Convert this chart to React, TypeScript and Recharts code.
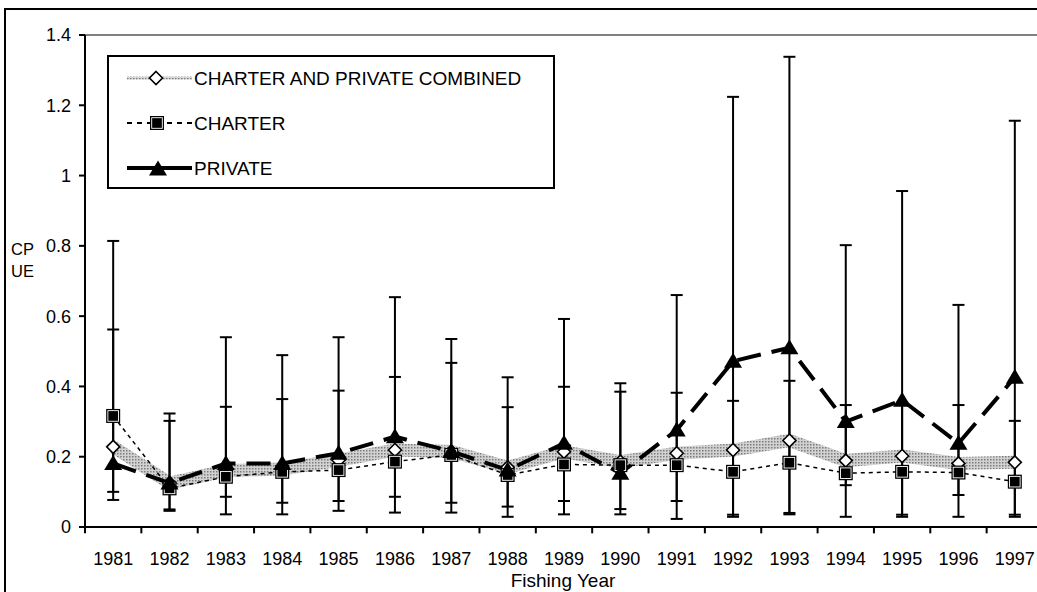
import React from 'react';
import { LineChart, Line, XAxis, YAxis, ErrorBar, ReferenceLine, Legend } from 'recharts';

const FONT = '"Liberation Sans", Arial, Helvetica, sans-serif';

// Categories
const years = [1981, 1982, 1983, 1984, 1985, 1986, 1987, 1988, 1989, 1990, 1991, 1992, 1993, 1994, 1995, 1996, 1997];

// Series values (CPUE)
const combined = [0.228, 0.125, 0.160, 0.165, 0.190, 0.219, 0.215, 0.170, 0.214, 0.186, 0.210, 0.219, 0.246, 0.189, 0.202, 0.181, 0.184];
const charter = [0.316, 0.110, 0.143, 0.157, 0.162, 0.186, 0.205, 0.148, 0.178, 0.176, 0.176, 0.157, 0.183, 0.153, 0.157, 0.155, 0.129];
const charterLow = [0.100, 0.050, 0.086, 0.069, 0.074, 0.086, 0.069, 0.058, 0.074, 0.051, 0.074, 0.035, 0.040, 0.119, 0.035, 0.091, 0.035];
const charterHigh = [0.562, 0.302, 0.342, 0.364, 0.388, 0.427, 0.467, 0.341, 0.399, 0.385, 0.382, 0.359, 0.416, 0.347, 0.350, 0.347, 0.302];
const privateVals = [0.181, 0.125, 0.181, 0.181, 0.210, 0.257, 0.215, 0.162, 0.238, 0.153, 0.276, 0.472, 0.510, 0.300, 0.361, 0.238, 0.426];
const privateLow = [0.077, 0.046, 0.036, 0.036, 0.046, 0.041, 0.041, 0.029, 0.036, 0.036, 0.023, 0.029, 0.036, 0.029, 0.029, 0.029, 0.029];
const privateHigh = [0.814, 0.323, 0.540, 0.489, 0.540, 0.654, 0.535, 0.426, 0.592, 0.409, 0.660, 1.224, 1.338, 0.802, 0.956, 0.632, 1.156];

// Tick labels
const yTicks = [0, 0.2, 0.4, 0.6, 0.8, 1, 1.2, 1.4];
const seriesNames = ['CHARTER AND PRIVATE COMBINED', 'CHARTER', 'PRIVATE'];
const xTitle = 'Fishing Year';
const yTitle = ['CP', 'UE'];

const data = years.map((year, i) => ({
  year,
  combined: combined[i],
  charter: charter[i],
  charterErr: [charter[i] - charterLow[i], charterHigh[i] - charter[i]],
  priv: privateVals[i],
  privErr: [privateVals[i] - privateLow[i], privateHigh[i] - privateVals[i]],
}));

const bandEdges = [...years.map((y) => y - 0.5), years[years.length - 1] + 0.5];

const DiamondDot = (props: any) => {
  const { cx, cy, index } = props;
  if (cx == null || cy == null) return <g key={`dd${index}`} />;
  const r = 6.5;
  return (
    <polygon
      key={`dd${index}`}
      points={`${cx},${cy - r} ${cx + r},${cy} ${cx},${cy + r} ${cx - r},${cy}`}
      fill="#fff"
      stroke="#000"
      strokeWidth={1.6}
    />
  );
};

const SquareDot = (props: any) => {
  const { cx, cy, index } = props;
  if (cx == null || cy == null) return <g key={`sd${index}`} />;
  return (
    <g key={`sd${index}`}>
      <rect x={cx - 7} y={cy - 7} width={14} height={14} fill="#000" />
      <rect x={cx - 5.3} y={cy - 5.3} width={10.6} height={10.6} fill="#000" stroke="#fff" strokeWidth={0.9} />
    </g>
  );
};

const TriangleDot = (props: any) => {
  const { cx, cy, index } = props;
  if (cx == null || cy == null) return <g key={`td${index}`} />;
  return (
    <polygon
      key={`td${index}`}
      points={`${cx},${cy - 8.5} ${cx + 9},${cy + 6.5} ${cx - 9},${cy + 6.5}`}
      fill="#000"
    />
  );
};

const LegendBox = () => (
  <div
    style={{
      width: 448,
      height: 134,
      border: '2px solid #000',
      boxSizing: 'border-box',
      background: '#fff',
    }}
  >
    <svg width={444} height={130} style={{ display: 'block' }}>
      <defs>
        <pattern id="legdots" width="3" height="3" patternUnits="userSpaceOnUse">
          <rect width="3" height="3" fill="#d8d8d8" />
          <rect width="1.5" height="1.5" fill="#7a7a7a" />
        </pattern>
      </defs>
      {/* combined */}
      <line x1={18} x2={83} y1={21} y2={21} stroke="url(#legdots)" strokeWidth={3} />
      <DiamondDot cx={47} cy={21} index={0} />
      <text x={85} y={28} fontFamily={FONT} fontSize={19} fill="#000">{seriesNames[0]}</text>
      {/* charter */}
      <line x1={18} x2={83} y1={66} y2={66} stroke="#000" strokeWidth={2} strokeDasharray="5 5" />
      <SquareDot cx={48} cy={66} index={1} />
      <text x={85} y={73} fontFamily={FONT} fontSize={19} fill="#000">{seriesNames[1]}</text>
      {/* private */}
      <line x1={18} x2={83} y1={111} y2={111} stroke="#000" strokeWidth={4} />
      <TriangleDot cx={49} cy={112} index={2} />
      <text x={85} y={118} fontFamily={FONT} fontSize={19} fill="#000">{seriesNames[2]}</text>
    </svg>
  </div>
);

const XTitle = (props: any) => {
  const vb = props.viewBox || { x: 85, y: 527, width: 958, height: 60 };
  return (
    <text x={vb.x + vb.width / 2 - 1} y={587} textAnchor="middle" fontFamily={FONT} fontSize={19} fill="#000">
      {xTitle}
    </text>
  );
};

const YTitle = () => (
  <g>
    <text x={11} y={255} fontFamily={FONT} fontSize={16.5} fill="#000">{yTitle[0]}</text>
    <text x={11} y={277} fontFamily={FONT} fontSize={16.5} fill="#000">{yTitle[1]}</text>
  </g>
);

export default function App() {
  return (
    <div
      style={{
        position: 'absolute',
        left: 0,
        top: 0,
        width: 1037,
        height: 592,
        overflow: 'hidden',
        background: '#fff',
        fontFamily: FONT,
      }}
    >
      <div
        style={{
          position: 'absolute',
          left: 4,
          top: 8,
          width: 2000,
          height: 2000,
          borderLeft: '2px solid #000',
          borderTop: '2px solid #000',
        }}
      />
      <div style={{ position: 'absolute', left: 0, top: 0 }}>
        <LineChart width={1060} height={600} data={data} margin={{ top: 35, right: 17, left: 25, bottom: 13 }}>
          <defs>
            <pattern id="banddots" width="3" height="3" patternUnits="userSpaceOnUse">
              <rect width="3" height="3" fill="#d2d2d2" />
              <rect width="1.5" height="1.5" fill="#7c7c7c" />
            </pattern>
          </defs>
          <XAxis
            dataKey="year"
            type="number"
            domain={[bandEdges[0], bandEdges[bandEdges.length - 1]]}
            ticks={years}
            interval={0}
            height={60}
            tickLine={false}
            tickSize={6}
            tickMargin={19}
            axisLine={{ stroke: '#000', strokeWidth: 2 }}
            tick={{ fill: '#000', fontSize: 18, fontFamily: FONT }}
            tickFormatter={(v: number) => String(v)}
            label={{ content: XTitle }}
          />
          <YAxis
            type="number"
            domain={[0, 1.4]}
            ticks={yTicks}
            interval={0}
            width={60}
            tickSize={6}
            tickMargin={8}
            axisLine={{ stroke: '#000', strokeWidth: 2 }}
            tickLine={{ stroke: '#000', strokeWidth: 2 }}
            tick={{ fill: '#000', fontSize: 18, fontFamily: FONT }}
            tickFormatter={(v: number) => String(Number(v.toFixed(1)))}
            label={{ content: YTitle }}
          />
          <ReferenceLine y={1.4} stroke="#808080" strokeWidth={2} ifOverflow="visible" />
          {bandEdges.map((e) => (
            <ReferenceLine
              key={`edge${e}`}
              segment={[{ x: e, y: 0 }, { x: e, y: -0.018 }]}
              stroke="#000"
              strokeWidth={2}
              ifOverflow="visible"
            />
          ))}
          <Line
            dataKey="combined"
            stroke="url(#banddots)"
            strokeWidth={13}
            strokeLinejoin="miter"
            dot={DiamondDot}
            activeDot={false}
            isAnimationActive={false}
            legendType="none"
          />
          <Line
            dataKey="charter"
            stroke="#000"
            strokeWidth={1.5}
            strokeDasharray="4 4"
            dot={SquareDot}
            activeDot={false}
            isAnimationActive={false}
            legendType="none"
          >
            <ErrorBar dataKey="charterErr" direction="y" width={6} stroke="#000" strokeWidth={2} isAnimationActive={false} />
          </Line>
          <Line
            dataKey="priv"
            stroke="#000"
            strokeWidth={4}
            strokeDasharray="24 11"
            dot={TriangleDot}
            activeDot={false}
            isAnimationActive={false}
            legendType="none"
          >
            <ErrorBar dataKey="privErr" direction="y" width={6} stroke="#000" strokeWidth={2} isAnimationActive={false} />
          </Line>
          <Legend
            content={LegendBox}
            layout="vertical"
            align="center"
            verticalAlign="middle"
            wrapperStyle={{ left: 107, top: 55, width: 448, height: 134, margin: 0, padding: 0 }}
          />
        </LineChart>
      </div>
    </div>
  );
}
